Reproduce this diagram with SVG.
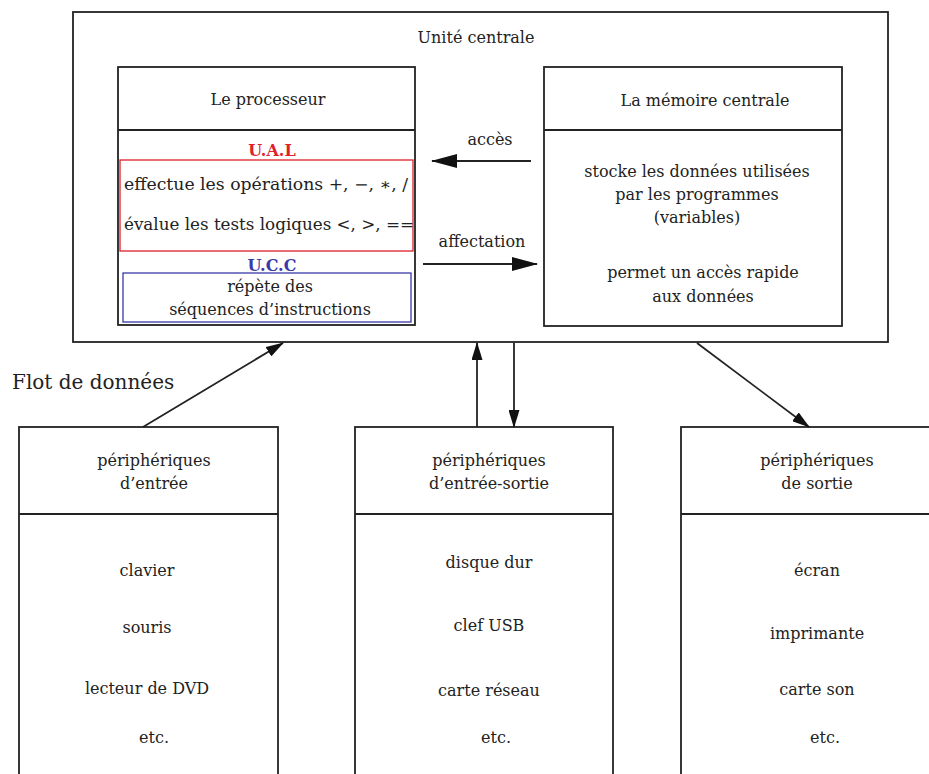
<svg xmlns="http://www.w3.org/2000/svg" width="929" height="774" viewBox="0 0 929 774">
<defs>
<style>
.box{fill:#fff;stroke:#222;stroke-width:1.8}
.ln{stroke:#222;stroke-width:1.8;fill:none}
text{font-family:"DejaVu Serif","Liberation Serif",serif;font-size:16px;fill:#222;text-anchor:middle}
.l{text-anchor:start}
.red{fill:#e0202a;font-weight:bold}
.blue{fill:#3a3aa8;font-weight:bold}
</style>
<marker id="ah" markerWidth="18" markerHeight="11" refX="17" refY="5.5" orient="auto" markerUnits="userSpaceOnUse">
<path d="M0,0 L18,5.5 L0,11 Z" fill="#111"/>
</marker>
<marker id="ah2" markerWidth="26" markerHeight="14" refX="25" refY="7" orient="auto" markerUnits="userSpaceOnUse">
<path d="M0,0 L26,7 L0,14 Z" fill="#111"/>
</marker>
</defs>
<rect width="929" height="774" fill="#fff"/>

<g id="unite-centrale">
<rect class="box" x="73" y="12" width="815" height="330"/>
<text x="476" y="43">Unité centrale</text>
</g>

<g id="processeur">
<rect class="box" x="118" y="67" width="297" height="258"/>
<line class="ln" x1="118" y1="130" x2="415" y2="130"/>
<text x="268" y="105">Le processeur</text>
<text class="red" x="272" y="156">U.A.L</text>
<rect x="120" y="160" width="293" height="91" fill="none" stroke="#e0202a" stroke-width="1.3"/>
<text class="l" x="124" y="190" textLength="284" lengthAdjust="spacingAndGlyphs">effectue les opérations +, −, ∗, /</text>
<text class="l" x="124" y="230" textLength="290" lengthAdjust="spacingAndGlyphs">évalue les tests logiques &lt;, &gt;, ==</text>
<text class="blue" x="272" y="271">U.C.C</text>
<rect x="123" y="273" width="288" height="49" fill="none" stroke="#3a3aa8" stroke-width="1.3"/>
<text x="270" y="292">répète des</text>
<text x="270" y="315">séquences d’instructions</text>
</g>

<g id="memoire">
<rect class="box" x="544" y="67" width="298" height="259"/>
<line class="ln" x1="544" y1="130" x2="842" y2="130"/>
<text x="705" y="106">La mémoire centrale</text>
<text x="697" y="177">stocke les données utilisées</text>
<text x="697" y="200">par les programmes</text>
<text x="697" y="223">(variables)</text>
<text x="703" y="278">permet un accès rapide</text>
<text x="703" y="302">aux données</text>
</g>

<g id="peripheriques-entree">
<rect class="box" x="19" y="427" width="259" height="360"/>
<line class="ln" x1="19" y1="514" x2="278" y2="514"/>
<text x="154" y="466">périphériques</text>
<text x="154" y="489">d’entrée</text>
<text x="147" y="576">clavier</text>
<text x="147" y="633">souris</text>
<text x="147" y="694">lecteur de DVD</text>
<text x="154" y="743">etc.</text>
</g>

<g id="peripheriques-entree-sortie">
<rect class="box" x="355" y="427" width="258" height="360"/>
<line class="ln" x1="355" y1="514" x2="613" y2="514"/>
<text x="489" y="466">périphériques</text>
<text x="489" y="489">d’entrée-sortie</text>
<text x="489" y="568">disque dur</text>
<text x="489" y="631">clef USB</text>
<text x="489" y="696">carte réseau</text>
<text x="496" y="743">etc.</text>
</g>

<g id="peripheriques-sortie">
<rect class="box" x="681" y="427" width="260" height="360"/>
<line class="ln" x1="681" y1="514" x2="941" y2="514"/>
<text x="817" y="466">périphériques</text>
<text x="817" y="489">de sortie</text>
<text x="817" y="576">écran</text>
<text x="817" y="639">imprimante</text>
<text x="817" y="695">carte son</text>
<text x="825" y="743">etc.</text>
</g>

<g id="connectors">
<line class="ln" x1="531" y1="161" x2="432" y2="161" marker-end="url(#ah2)"/>
<text x="490" y="145">accès</text>
<line class="ln" x1="423" y1="264" x2="537" y2="264" marker-end="url(#ah2)"/>
<text x="482" y="247">affectation</text>
<line class="ln" x1="143" y1="427" x2="283" y2="343" marker-end="url(#ah)"/>
<line class="ln" x1="477" y1="427" x2="477" y2="343" marker-end="url(#ah)"/>
<line class="ln" x1="514" y1="343" x2="514" y2="427" marker-end="url(#ah)"/>
<line class="ln" x1="697" y1="343" x2="809" y2="427" marker-end="url(#ah)"/>
<text class="l" x="12" y="389" style="font-size:20px">Flot de données</text>
</g>
</svg>
